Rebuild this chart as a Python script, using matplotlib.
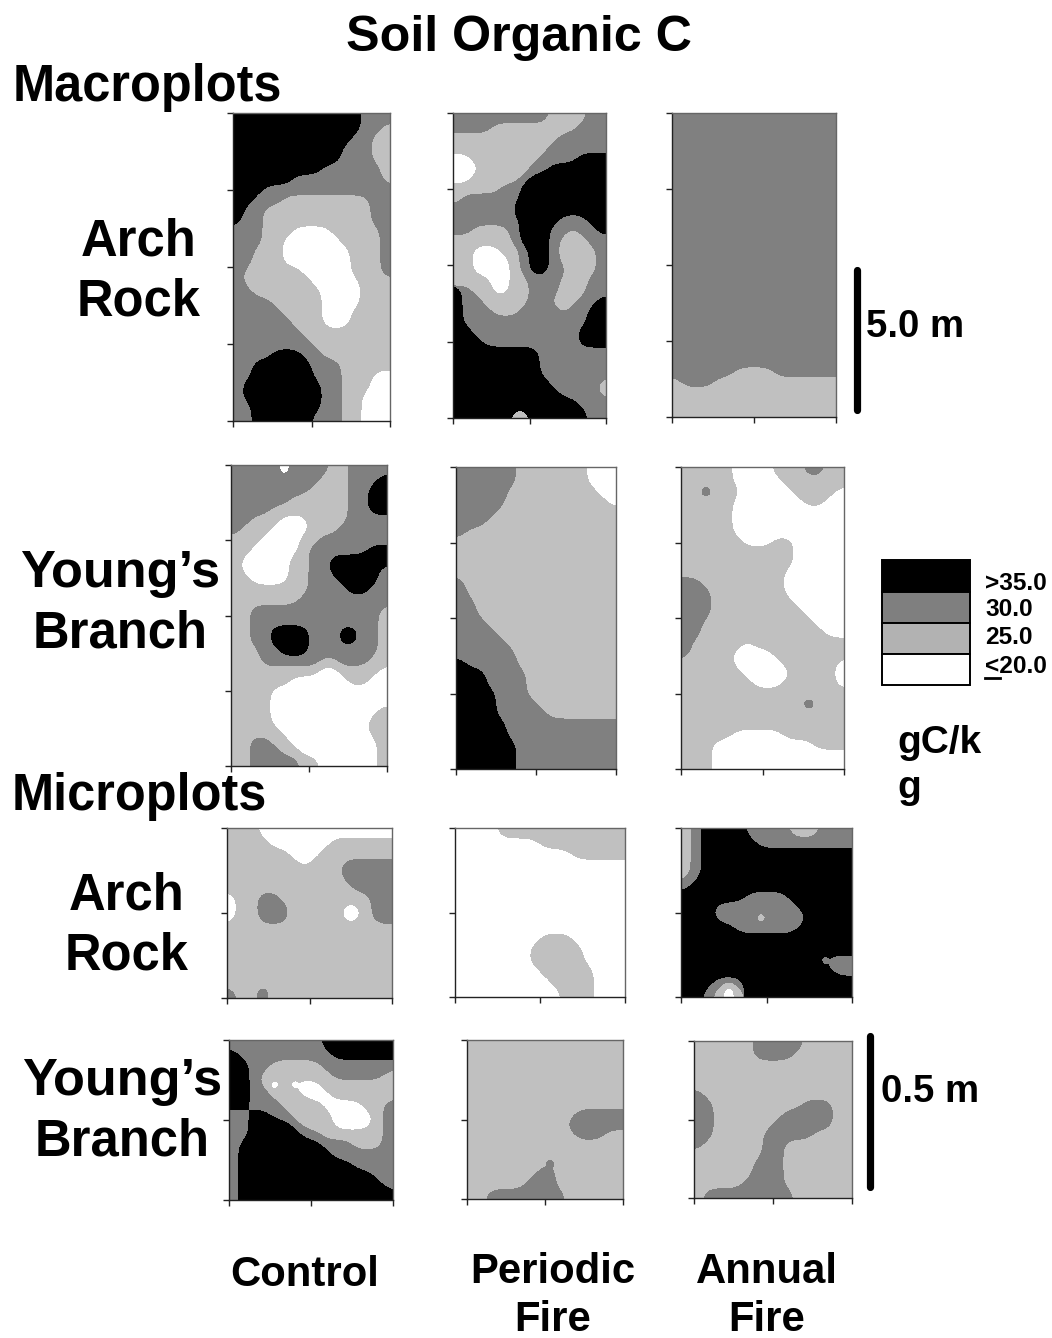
import numpy as np
import matplotlib
matplotlib.use("Agg")
import matplotlib.pyplot as plt
from matplotlib.patches import Rectangle
from matplotlib.lines import Line2D

# Soil C class maps: . = <=20, o = 25, x = 30, # = >35
macro_arch_control = [
"#############xxx","#############xxo","############xxoo","###########xxxoo","###########xxxoo",
"#########xxxxxxo","######xxxxxxxxxo","###xxxxxxxxxxxxx","##xxxoooooooooxx","#xxoooooooooooxx",
"#xxoooooooooooxx","xxxooo....ooooox","xxxoo......oooox","xxooo.......ooox","xxooo.......ooox",
"xoooooo.....ooox","xooooooo.....ooo","xxooooooo....ooo","xxxxooooo....ooo","xxxxxoooo...oooo",
"xxxxxxooo...oooo","xxxxxxxooooooooo","xxxxxxxxoooooooo","xxxx###xxooooooo","xx######xxxooooo",
"xx######xxxooo..","x########xxooo..","x########xxoo...","xx#######xxoo...","xx######xxxoo...",
]
macro_arch_periodic = [
"xxxxxxxxxxooooxx","xxxxoooooooooxxx","oooooooooooxxxxx","ooooooooooxxxxxx","..oooooooxxxx###",
"...oooooxx######","..ooooox########","oooooxx#########","oxxxxxx#########","xxxxxx##########",
"xxxxxxx####xxx##","xxoooox###xxoxx#","oooooox###xoooxx","oo...oox##xoooox","oo....ox##xoooox",
"oo....ox##xxooox","oooo..ooxxxoooxx","#xoo..ooxxxoooxx","#xxoooooxxoooxx#","#xxxoooxxxxoxx##",
"#xxxxxxxxxxxxx##","##xxxxxxxxxxx###","###xxxxxxxxxx###","#########xxxxxxx","#########xxxxxxx",
"#########xxxxxxx","##########xxxxxo","###########xxxxo","#############xxx","######oo######xx",
]
macro_arch_annual = ["xxxxxxxxxxxxxxxx"] * 25 + [
"xxxxxxooooxxxxxx","oxxxoooooooooooo","oooooooooooooooo","oooooooooooooooo","oooooooooooooooo",
]
macro_young_control = [
"xxxxx.xxxxooxxxx","xxxxxxxxxoooxxx#","xxxxxxxxooooxx##","xxxxxxooooooxx##","xxxxooooooooxx##",
"xxooo...ooooxxxx","xooo....oooxxxxx","ooo....ooxxxxxxx","oo.....oxxxxxx##","o.....ooxx######",
"o.....ooxx#####x","oo....ooxxx####x","ooooooooxxxx##xx","oooooooxxxxxxxxx","ooxxxxxxxxxxxxxo",
"ooxxxxxxxxxxxxxo","ooxx####xxx##xxo","ooxx####xxx##xxo","oooxx###xxxxxxxo","oooxxxxxxooxxxoo",
"ooooooooo..oooo.","oooooo......oo..","oooo............","oooo............","oooo...........o",
"oooo..........oo","ooooo.........oo","ooxxoo.........o","ooxxxoo........o","ooxxxxxoo......o",
]
macro_young_periodic = [
"xxxxxxooooooo...","xxxxxxooooooo...","xxxxxooooooooo..","xxxxxoooooooooo.","xxxxoooooooooooo",
"xxxooooooooooooo","xooooooooooooooo","oooooooooooooooo","oooooooooooooooo","oooooooooooooooo",
"oooooooooooooooo","xooooooooooooooo","xooooooooooooooo","xxoooooooooooooo","xxoooooooooooooo",
"xxxooooooooooooo","xxxxoooooooooooo","xxxxxooooooooooo","xxxxxxoooooooooo","#xxxxxoooooooooo",
"###xxxxooooooooo","###xxxxooooooooo","####xxxooooooooo","####xxxxoooooooo","####xxxxxooooooo",
"#####xxxxxxxxxxx","#####xxxxxxxxxxx","######xxxxxxxxxx","######xxxxxxxxxx","######xxxxxxxxxx",
]
macro_young_annual = [
"ooooo....oooxxoo","ooooo.....oooooo","ooxooo.....oooo.","ooooo.......oo..","ooooo...........",
"ooooo...........","ooooo...........","oooooo...oo.....","ooooooooooo.....","ooooooooooo.....",
"oooooooooo......","xxoooooooo......","xxxooooooo......","xxxoooooooo.....","xxxooooooooo....",
"xxooooooooooo...","xxoooooooooooo..","xooooo.ooooooooo","xoooo....ooooooo","ooooo.....ooooo.",
"oooooo.....oooo.","ooooooo...ooooo.","oooooooooooooooo","ooooooooooooxooo","oooooooooooooooo",
"oooooooooooooooo","ooooo.....oooooo","ooo..........ooo","ooo.............","ooo.............",
]
micro_arch_control = [
"ooo.............","oooo......oooooo","oooooo...ooooooo","ooooooo.oooxxxxx","oooooooooooxxxxx",
"ooooooooooooxxxx",".ooxxoooooooooxx",".ooxxxooooo..oxx",".ooxxxooooo..oxx","oooooooooooooooo",
"oooooooooooooooo","oooooooooooooooo","oooooooooooooooo","oooooooooooooooo","oooooooooooooooo",
"xooxoooooooooooo",
]
micro_arch_periodic = [
"....oooooooooooo","........oooooooo","...........ooooo","................","................",
"................","................","................","................","................",
"........ooo.....",".......ooooo....",".......ooooo....","........ooooo...",".........oooo...",
"..........ooo...",
]
micro_arch_annual = [
"ox####xxxxoooxxx","ox#####xxxxxxxxx","ox##############","ox##############","ox##############",
"x###############","######xxxx######","###xxxxxxxx#####","###xxxxoxxxx####","#####xxxxxx#####",
"################","################","#############xxx","##############xx","###xox##########",
"##xo.o##########",
]
micro_young_control = [
"xxxxxxxxx#######","#xxxxxxxxx######","##xxoooooxxxxxxx","##xoooooooxxxxxo","##xo.o...ooooooo",
"##xxooo...oooooo","##xxxoooo....oox","xx##xxoooo....ox","xx####xooo....ox","xx#####xxoooooox",
"x########xxxooox","x#########xxxxxx","x###########xxxx","x#############xx","x##############x",
"x###############",
]
micro_young_periodic = [
"oooooooooooooooo","oooooooooooooooo","oooooooooooooooo","oooooooooooooooo","oooooooooooooooo",
"oooooooooooooooo","oooooooooooooooo","oooooooooooxxxxx","ooooooooooxxxxxx","oooooooooooxxxoo",
"oooooooooooooooo","oooooooooooooooo","ooooooooxooooooo","oooooooxxooooooo","ooooooxxxooooooo",
"ooxxxxxxxxoooooo",
]
micro_young_annual = [
"ooooooxxxxxooooo","ooooooxxxxoooooo","oooooooooooooooo","oooooooooooooooo","oooooooooooooooo",
"xooooooooooooooo","xxoooooooooxxxoo","xxoooooooxxxxxoo","xxooooooxxxxxxoo","xxoooooxxxxxoooo",
"xooooooxxooooooo","oooooooxxooooooo","ooooooxxxooooooo","ooooooxxxooooooo","oooooxxxxooooooo",
"oxxxxxxxxxoooooo",
]

legend_labels = [">35.0", "30.0", "25.0", "<20.0"]
legend_colors = ["#000000", "#7f7f7f", "#b2b2b2", "#ffffff"]
title = "Soil Organic C"
W, H = 1052, 1338
LIGHT, DARK, BLACK = "#c0c0c0", "#808080", "#000000"
CODE = {".": 0, "o": 1, "x": 2, "#": 3}
FONT = "Liberation Sans"

fig = plt.figure(figsize=(W / 100, H / 100), dpi=100, facecolor="white")


def blur(mask, sigma, k=8):
    up = np.repeat(np.repeat(mask.astype(float), k, axis=0), k, axis=1)
    s = sigma * k
    r = int(3 * s)
    g = np.exp(-0.5 * (np.arange(-r, r + 1) / s) ** 2)
    g /= g.sum()
    up = np.pad(up, r, mode="edge")
    up = np.apply_along_axis(lambda v: np.convolve(v, g, mode="same"), 0, up)
    up = np.apply_along_axis(lambda v: np.convolve(v, g, mode="same"), 1, up)
    return up[r:-r, r:-r]


def slim(mask):
    """Cells of a feature too small to survive the wide smoothing."""
    p = np.pad(mask.astype(int), 1, mode="edge")
    n = sum(np.roll(np.roll(p, i, 0), j, 1) for i in (-1, 0, 1) for j in (-1, 0, 1))[1:-1, 1:-1]
    return mask & (n <= 3)


def smooth(mask):
    f = blur(mask, 0.75)
    a, b = slim(mask), slim(~mask)
    if a.any():
        f = np.maximum(f, blur(a, 0.38))
    if b.any():
        f = np.minimum(f, 1 - blur(b, 0.38))
    return f


def panel(rows, left, top, right, bottom, nyt):
    ax = fig.add_axes([left / W, 1 - bottom / H, (right - left) / W, (bottom - top) / H])
    vals = np.array([[CODE[c] for c in row] for row in rows])
    for level, col in zip((1, 2, 3), (LIGHT, DARK, BLACK)):
        f = smooth(vals >= level)
        x = np.linspace(0, 1, f.shape[1])
        y = np.linspace(1, 0, f.shape[0])
        if f.max() > 0.5:
            ax.contourf(x, y, f, levels=[0.5, 2], colors=[col])
    ax.set_xlim(0, 1)
    ax.set_ylim(0, 1)
    ax.set_xticks([0, 0.5, 1])
    ax.set_yticks(np.linspace(0, 1, nyt))
    ax.set_xticklabels([])
    ax.set_yticklabels([])
    ax.tick_params(length=4.5, width=1, color="#222222")
    for name, sp in ax.spines.items():
        sp.set_linewidth(1.0)
        sp.set_color("#222222" if name in ("left", "bottom") else "#666666")
    return ax


panel(macro_arch_control, 233, 113, 390, 421, 5)
panel(macro_arch_periodic, 453, 113, 606, 418, 5)
panel(macro_arch_annual, 672, 113, 836, 417, 5)
panel(macro_young_control, 231, 465, 387, 766, 5)
panel(macro_young_periodic, 456, 467, 616, 769, 5)
panel(macro_young_annual, 681, 467, 844, 769, 5)
panel(micro_arch_control, 227, 828, 392, 998, 3)
panel(micro_arch_periodic, 455, 828, 625, 997, 3)
panel(micro_arch_annual, 681, 828, 852, 997, 3)
panel(micro_young_control, 229, 1040, 393, 1200, 3)
panel(micro_young_periodic, 467, 1040, 623, 1199, 3)
panel(micro_young_annual, 694, 1041, 852, 1198, 3)


def txt(x, y, s, size, ha="center"):
    fig.text(x / W, 1 - y / H, s, fontsize=size, fontweight="bold", family=FONT,
             ha=ha, va="baseline", color="black")


txt(518.5, 51, title, 36.2)
txt(13, 101, "Macroplots", 36.4, "left")
txt(12, 810, "Microplots", 36.4, "left")
for x, y, s in [(139, 255.5, "Arch"), (139, 315, "Rock"), (120, 647.5, "Branch"),
                (127, 910, "Arch"), (127, 970, "Rock"), (122, 1155.5, "Branch")]:
    txt(x, y, s, 36.5)
for x, y, s in [(120, 587.5, "Young’s"), (122, 1095, "Young’s")]:
    txt(x, y, s, 37.6)
for x, y, s in [(305, 1286, "Control"), (553, 1283, "Periodic"), (553, 1331, "Fire"),
                (767, 1283, "Annual"), (767, 1331, "Fire")]:
    txt(x, y, s, 30.2)
txt(866, 337, "5.0 m", 27.6, "left")
txt(881, 1102, "0.5 m", 27.6, "left")
txt(897, 753, "gC/k", 28, "left")
txt(897, 798, "g", 28, "left")

# scale bars
for x, y0, y1 in [(857, 270, 410), (869.5, 1036, 1187)]:
    fig.add_artist(Line2D([x / W, x / W], [1 - y0 / H, 1 - y1 / H], color="black", lw=5.2,
                          solid_capstyle="round"))

# legend
box_top = [560, 592, 623, 654]
box_h = [32, 31, 31, 31]
base = [590, 616, 644, 673]
for lab, col, t, h, b in zip(legend_labels, legend_colors, box_top, box_h, base):
    fig.add_artist(Rectangle((882 / W, 1 - (t + h) / H), 88 / W, h / H, transform=fig.transFigure,
                             facecolor=col, edgecolor="black", lw=1.4))
    txt(985, b, lab, 17.6, "left")
fig.add_artist(Line2D([985 / W, 1000 / W], [1 - 677.5 / H, 1 - 677.5 / H], color="black", lw=2))

fig.savefig("out.png", dpi=100, facecolor="white")
